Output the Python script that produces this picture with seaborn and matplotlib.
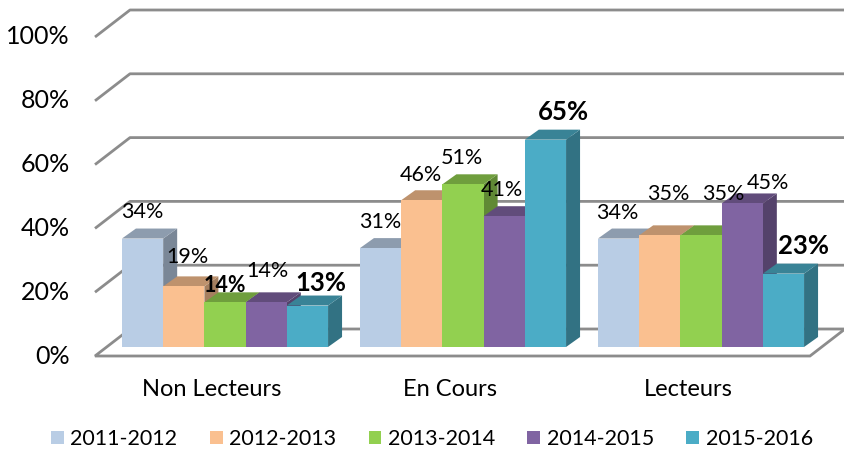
import numpy as np
import pandas as pd
import matplotlib
matplotlib.use("Agg")
import matplotlib.pyplot as plt
from matplotlib.patches import Polygon
import seaborn as sns

# ---------------- data ----------------
categories = ["Non Lecteurs", "En Cours", "Lecteurs"]
years = ["2011-2012", "2012-2013", "2013-2014", "2014-2015", "2015-2016"]
v_2011 = [34, 31, 34]
v_2012 = [19, 46, 35]
v_2013 = [14, 51, 35]
v_2014 = [14, 41, 45]
v_2015 = [13, 65, 23]
y_ticks = [0, 20, 40, 60, 80, 100]
tick_labels = ["0%", "20%", "40%", "60%", "80%", "100%"]

# ---------------- style ----------------
colors = ["#B9CDE5", "#FAC090", "#92D050", "#8064A2", "#4BACC6"]
bold_labels = {("Non Lecteurs", "2013-2014"): 15.5, ("Non Lecteurs", "2015-2016"): 18.5,
               ("En Cours", "2015-2016"): 18.5, ("Lecteurs", "2015-2016"): 18.5}
# label nudges in pixels (dx right, dy up) relative to bar top centre
label_nudge = {
    ("Non Lecteurs", "2011-2012"): (0, 27), ("Non Lecteurs", "2012-2013"): (4, 29),
    ("Non Lecteurs", "2013-2014"): (0, 17), ("Non Lecteurs", "2014-2015"): (1, 31),
    ("Non Lecteurs", "2015-2016"): (13, 23),
    ("En Cours", "2011-2012"): (0, 26), ("En Cours", "2012-2013"): (-1, 25),
    ("En Cours", "2013-2014"): (-1, 26), ("En Cours", "2014-2015"): (-2, 26),
    ("En Cours", "2015-2016"): (18, 28),
    ("Lecteurs", "2011-2012"): (-1, 26), ("Lecteurs", "2012-2013"): (9, 41),
    ("Lecteurs", "2013-2014"): (22, 41), ("Lecteurs", "2014-2015"): (26, 20),
    ("Lecteurs", "2015-2016"): (20, 28),
}

series = [v_2011, v_2012, v_2013, v_2014, v_2015]
rows = []
for yr, vals in zip(years, series):
    for c, v in zip(categories, vals):
        rows.append({"cat": c, "year": yr, "val": v})
df = pd.DataFrame(rows)

sns.set_theme(style="white")
plt.rcParams["font.family"] = ["Lato", "DejaVu Sans"]

W, H = 845, 451
fig = plt.figure(figsize=(W / 100, H / 100), dpi=100)
ax = fig.add_axes([0, 0, 1, 1])

# pixel geometry helpers
X0, SX = 225.0, 238.0
Y0, SY = 347.0, 3.19
def X(px): return (px - X0) / SX
def Y(py): return (Y0 - py) / SY

sns.barplot(data=df, x="cat", y="val", hue="year", palette=colors,
            width=0.866, gap=0, linewidth=0, saturation=1, ax=ax, legend=True)

ax.set_xlim(X(0), X(W))
ax.set_ylim(Y(H), Y(0))
ax.set_axis_off()

grid_c = "#8C8C8C"
# back wall gridlines
for g in y_ticks[1:]:
    ax.plot([X(95), X(130), X(W + 5)], [Y(356) + g, Y(329) + g, Y(329) + g],
            color=grid_c, lw=2, zorder=1, solid_capstyle="butt", clip_on=False)
# floor
floor = Polygon([(X(95), Y(356)), (X(810), Y(356)), (X(845), Y(329)), (X(130), Y(329))],
                closed=True, facecolor="white", edgecolor=grid_c, lw=2, zorder=1)
ax.add_patch(floor)

# tick labels
for g, t in zip(y_ticks, tick_labels):
    ax.text(X(70), Y(356) + g, t, ha="right", va="center", fontsize=18, color="#000000")

# category labels
for i, c in enumerate(categories):
    ax.text(i + X(X0 - 13), Y(389), c, ha="center", va="center", fontsize=17, color="#000000")

# 3D faces
ddx = 14 / SX
ddy = 10 / SY
def shade(col, f):
    r, g_, b = matplotlib.colors.to_rgb(col)
    return (r * f, g_ * f, b * f)

bars = []
for hi, cont in enumerate(ax.containers):
    for ci, p in enumerate(cont.patches):
        bars.append((p.get_x(), hi, ci, p))
bars.sort(key=lambda t: t[0])
for k, (_, hi, ci, p) in enumerate(bars):
    x0 = p.get_x(); x1 = x0 + p.get_width(); y1 = p.get_height()
    col = colors[hi]
    base = 10 + 3 * k
    side = Polygon([(x1, 0), (x1 + ddx, ddy), (x1 + ddx, y1 + ddy), (x1, y1)],
                   closed=True, facecolor=shade(col, 0.66), lw=0, zorder=base)
    top = Polygon([(x0, y1), (x1, y1), (x1 + ddx, y1 + ddy), (x0 + ddx, y1 + ddy)],
                  closed=True, facecolor=shade(col, 0.76), lw=0, zorder=base + 1)
    ax.add_patch(side); ax.add_patch(top)
    p.set_zorder(base + 2)
    cat, yr = categories[ci], years[hi]
    v = series[hi][ci]
    ndx, ndy = label_nudge[(cat, yr)]
    xc = (x0 + x1) / 2 + ndx / SX
    yc = y1 + ndy / SY
    if (cat, yr) in bold_labels:
        ax.text(xc, yc, f"{v}%", ha="center", va="center", fontsize=bold_labels[(cat, yr)],
                fontweight="bold", color="#000000", zorder=200)
    else:
        ax.text(xc, yc, f"{v}%", ha="center", va="center", fontsize=15.5,
                color="#000000", zorder=200)

leg = ax.legend(loc="center", bbox_to_anchor=(432 / W, 1 - 439 / H), ncol=5, frameon=False,
                fontsize=15.5, handlelength=0.6, handleheight=0.6, handletextpad=0.3,
                columnspacing=1.5, borderaxespad=0)
for t in leg.get_texts():
    t.set_color("#000000")

fig.savefig("out.png", dpi=100)
